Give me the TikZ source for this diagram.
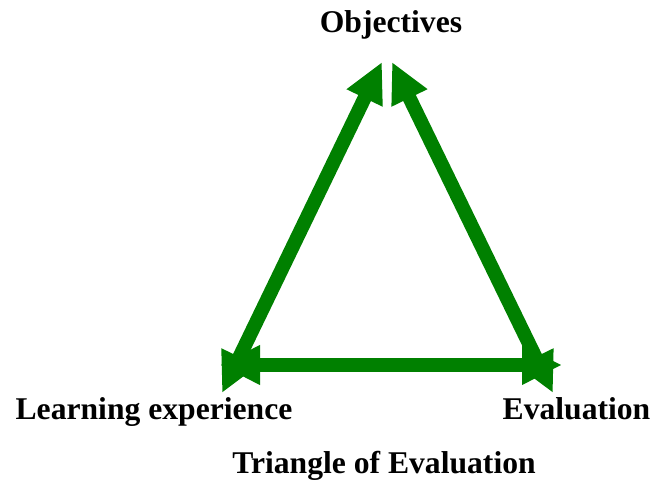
\documentclass[tikz,border=0pt]{standalone}
\usepackage{fontspec}
\setmainfont{Liberation Serif}
\usetikzlibrary{arrows.meta}
\definecolor{arrowgreen}{RGB}{0,128,0}
\tikzset{
	tri/.style={draw=arrowgreen, line width=0.28cm, {Triangle[length=0.8cm, width=0.74cm]}-{Triangle[length=0.8cm, width=0.74cm]}},
	lbl/.style={anchor=base, font=\fontsize{18}{21.6}\selectfont\bfseries}
}

\begin{document}
\begin{tikzpicture}
		%%%%% START %%%%%
		
		\useasboundingbox (0, 0) rectangle (13.04, 9.64);
		
		\coordinate (objl) at (7.64, 8.40);
		\coordinate (objr) at (7.84, 8.40);
		\coordinate (learnd) at (4.44, 1.78);
		\coordinate (learnh) at (4.40, 2.34);
		\coordinate (evald) at (11.06, 1.78);
		\coordinate (evalh) at (11.24, 2.34);
		
		\draw[tri] (learnd) -- (objl);
		\draw[tri] (evald) -- (objr);
		\draw[tri] (learnh) -- (evalh);
		
		\node[lbl] (obj) at (7.82, 8.98) {Objectives};
		\node[lbl] (learn) at (3.08, 1.24) {Learning experience};
		\node[lbl] (eval) at (11.53, 1.24) {Evaluation};
		\node[lbl] (title) at (7.68, 0.16) {Triangle of Evaluation};
		
		%%%%% END %%%%%
	\end{tikzpicture}
\end{document}
